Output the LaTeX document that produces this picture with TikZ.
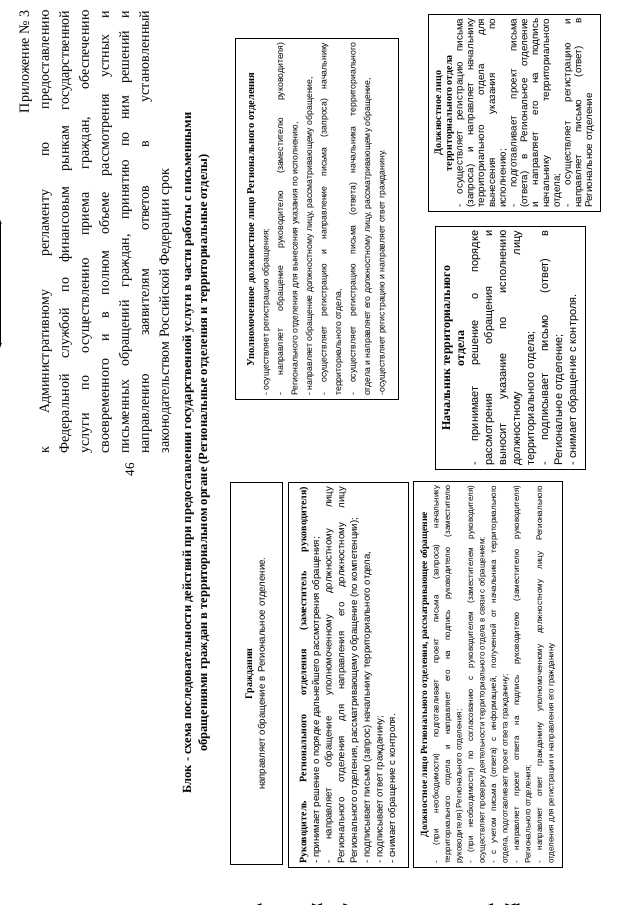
\documentclass[tikz,border=0pt]{standalone}
\usepackage{fontspec}
\setmainfont{Liberation Serif}
\setsansfont{Liberation Sans}
\usetikzlibrary{arrows.meta}

\newcommand{\boxfont}[2]{\fontsize{#1}{#2}\selectfont\sffamily
  \parindent=0pt\tolerance=10000\hbadness=10000\hyphenpenalty=10000}
\newcommand{\appxfont}{\fontsize{14}{20}\selectfont
  \parindent=0pt\tolerance=10000\hbadness=10000\hyphenpenalty=10000}
\newcommand{\boxtitle}[2]{\makebox[\hsize]{\fontsize{#1}{#1}\selectfont\rmfamily\bfseries #2}\par}

\begin{document}
\begin{tikzpicture}[x=1pt, y=1pt, >={Latex[length=5pt,width=3.6pt]},
    box/.style={draw, line width=0.6pt, inner sep=4pt, anchor=north west, align=justify},
    link/.style={<->, line width=0.6pt}]
\useasboundingbox (0,0) rectangle (640,905);

% the sheet is landscape, turned a quarter to the left
\begin{scope}[rotate=90, transform shape]

\node[anchor=north east, text width=443pt, align=justify, font=\appxfont] (appx) at (898,-16)
  {\makebox[\hsize][r]{Приложение № 3}\par
   к Административному регламенту по предоставлению\linebreak
   Федеральной службой по финансовым рынкам государственной\linebreak
   услуги по осуществлению приема граждан, обеспечению\linebreak
   своевременного и в полном объеме рассмотрения устных и\linebreak
   письменных обращений граждан, принятию по ним решений и\linebreak
   направлению заявителям ответов в установленный\linebreak
   законодательством Российской Федерации срок};

\node[font=\fontsize{13}{13}\selectfont] (pnum) at (435,-130) {46};

\node[align=center, font=\fontsize{12.5}{16}\selectfont\bfseries] (head) at (452,-196)
  {Блок - схема последовательности действий при предоставлении государственной услуги в части работы с письменными\\
   обращениями граждан в территориальном органе (Региональные отделения и территориальные отделы)};

% left column
\node[box, align=center, text width=374pt, minimum height=52pt, font=\boxfont{9.6}{12.7}] (grazh) at (40,-230)
  {{\rmfamily\bfseries\fontsize{10}{12.7}\selectfont Гражданин}\\
   направляет обращение в Региональное отделение.};

\node[box, text width=377pt, minimum height=120pt, font=\boxfont{9.6}{12.7}] (ruk) at (37,-288)
  {\makebox[\hsize][s]{\rmfamily\bfseries\fontsize{10}{12}\selectfont Руководитель Регионального отделения (заместитель руководителя)}\par
   - принимает решение о порядке дальнейшего рассмотрения обращения;\par
   - направляет обращение уполномоченному должностному лицу\linebreak
   Регионального отделения для направления его должностному лицу\linebreak
   Регионального отделения, рассматривающему обращение (по компетенции);\par
   - подписывает письмо (запрос) начальнику территориального отдела,\par
   - подписывает ответ гражданину;\par
   - снимает обращение с контроля.};

\node[box, text width=378pt, minimum height=149pt, font=\boxfont{8}{11.5}] (dlreg) at (37,-413)
  {\boxtitle{9.5}{Должностное лицо Регионального отделения, рассматривающее обращение}
   - (при необходимости) подготавливает проект письма (запроса) начальнику\linebreak
   территориального отдела и направляет его на подпись руководителю (заместителю\linebreak
   руководителя) Регионального отделения;\par
   - (при необходимости) по согласованию с руководителем (заместителем руководителя)\linebreak
   осуществляет проверку деятельности территориального отдела в связи с обращением;\par
   - с учетом письма (ответа) с информацией, полученной от начальника территориального\linebreak
   отдела, подготавливает проект ответа гражданину;\par
   - направляет проект ответа на подпись руководителю (заместителю руководителя)\linebreak
   Регионального отделения;\par
   - направляет ответ гражданину уполномоченному должностному лицу Регионального\linebreak
   отделения для регистрации и направления его гражданину};

% right part
\node[box, text width=353pt, minimum height=163pt, font=\boxfont{8.7}{14.5}] (upoln) at (505,-235)
  {\boxtitle{10.5}{Уполномоченное должностное лицо Регионального отделения}
   - осуществляет регистрацию обращения;\par
   - направляет обращение руководителю (заместителю руководителя)\linebreak
   Регионального отделения для вынесения указания по исполнению,\par
   - направляет обращение должностному лицу, рассматривающему обращение,\par
   - осуществляет регистрацию и направление письма (запроса) начальнику\linebreak
   территориального отдела,\par
   - осуществляет регистрацию письма (ответа) начальника территориального\linebreak
   отдела и направляет его должностному лицу, рассматривающему обращение,\par
   -осуществляет регистрацию и направляет ответ гражданину.};

\node[box, text width=235pt, minimum height=150pt, font=\boxfont{11}{14}] (nach) at (435,-435)
  {\boxtitle{12}{Начальник территориального}
   \boxtitle{12}{отдела}
   - принимает решение о порядке\linebreak
   рассмотрения обращения и\linebreak
   выносит указание по исполнению\linebreak
   должностному лицу\linebreak
   территориального отдела;\par
   - подписывает письмо (ответ) в\linebreak
   Региональное отделение;\par
   - снимает обращение с контроля.};

\node[box, text width=189pt, minimum height=172pt, font=\boxfont{9.8}{10.8}] (dlterr) at (693,-428)
  {\boxtitle{10}{Должностное лицо}
   \boxtitle{10}{территориального отдела}
   - осуществляет регистрацию письма\linebreak
   (запроса) и направляет начальнику\linebreak
   территориального отдела для\linebreak
   вынесения указания по\linebreak
   исполнению;\par
   - подготавливает проект письма\linebreak
   (ответа) в Региональное отделение\linebreak
   и направляет его на подпись\linebreak
   начальнику территориального\linebreak
   отдела;\par
   - осуществляет регистрацию и\linebreak
   направляет письмо (ответ) в\linebreak
   Региональное отделение};

% connections
\draw[link] (grazh.east -| 0,-252) -- (upoln.west -| 0,-252);
\draw[link] (ruk.east -| 0,-345) -- (upoln.west -| 0,-345);
\draw[link] (upoln.west -| 0,-375) -- ++(-58,0) -- ++(0,-53) -- (dlreg.east -| 0,-428);
\draw[link] (upoln.south |- 585,0) -- (nach.north |- 585,0);
\draw[link] (nach.west -| 0,-500) -- (dlreg.east -| 0,-500);
\draw[link] (dlterr.west -| 0,-492) -- (nach.east -| 0,-492);

\end{scope}
\end{tikzpicture}
\end{document}
